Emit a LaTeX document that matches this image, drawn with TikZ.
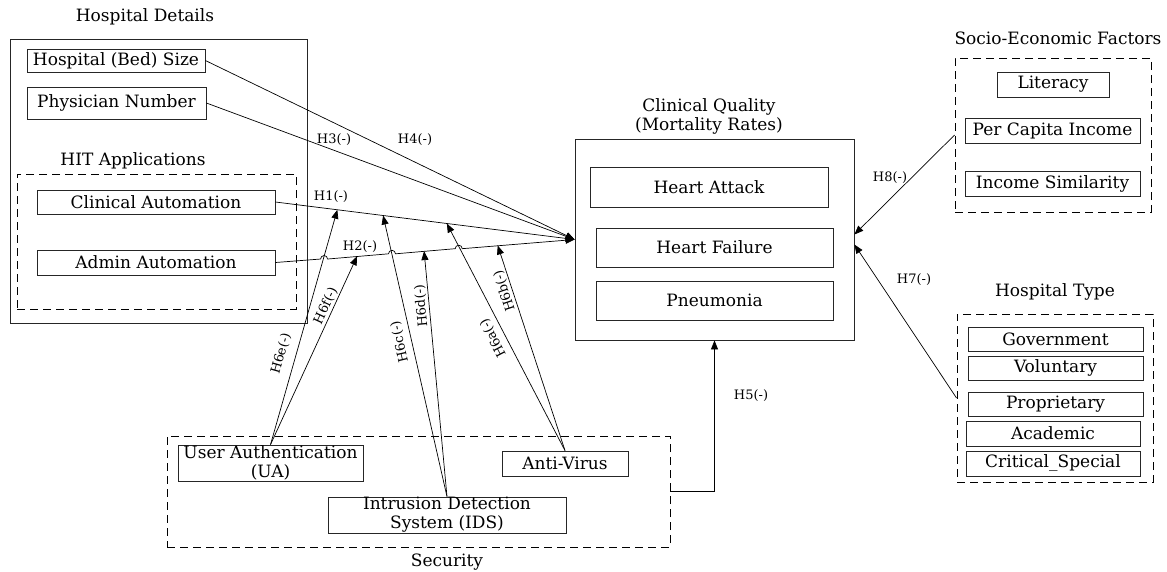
\documentclass[tikz,border=0pt]{standalone}
\usepackage{fontspec}
\setmainfont{DejaVu Serif}
\usetikzlibrary{arrows.meta,calc}
\newcommand{\boxfont}{\fontsize{17}{19}\selectfont}
\newcommand{\hfont}{\fontsize{13}{15}\selectfont}
\begin{document}
\begin{tikzpicture}[x=1pt,y=-1pt,
  box/.style={draw=black!85, line width=0.8pt, inner sep=0pt, align=center, font=\boxfont},
  dbox/.style={draw=black, line width=0.9pt, dash pattern=on 8pt off 5pt, inner sep=0pt},
  ttl/.style={font=\boxfont, inner sep=0pt, align=center},
  hl/.style={font=\hfont, inner sep=0pt},
  h6/.style={font=\hfont, sloped, allow upside down, above, inner sep=1.5pt},
  arr/.style={line width=0.7pt, -{Triangle[length=9pt,width=7pt]}},
]
\useasboundingbox (0,0) rectangle (1167,571);

% Hospital details
\node[ttl] (thd) at (145,17) {Hospital Details};
\node[box, minimum width=296.5pt, minimum height=283.5pt] (hd) at (158.75,181.25) {};
\node[box, minimum width=178pt, minimum height=23pt] (hbs) at (116,60.5) {Hospital (Bed) Size};
\node[box, minimum width=179pt, minimum height=32pt] (pn) at (116.5,103) {Physician Number};
\node[ttl] (thit) at (133,161) {HIT Applications};
\node[dbox, minimum width=279pt, minimum height=135pt] (hit) at (156.5,241.5) {};
\node[box, minimum width=238pt, minimum height=24pt] (ca) at (156,202) {Clinical Automation};
\node[box, minimum width=238pt, minimum height=25pt] (aa) at (156,262.5) {Admin Automation};

% Clinical quality
\node[ttl] (tcq) at (709,116.5) {Clinical Quality\\(Mortality Rates)};
\node[box, minimum width=279pt, minimum height=201pt] (cq) at (714.5,239.5) {};
\node[box, minimum width=238pt, minimum height=40pt] (ha) at (709,187) {Heart Attack};
\node[box, minimum width=237pt, minimum height=39pt] (hf) at (714.5,247.5) {Heart Failure};
\node[box, minimum width=237pt, minimum height=39pt] (pneu) at (714.5,300.5) {Pneumonia};

% Socio-economic
\node[ttl] (tsoc) at (1058,38) {Socio-Economic Factors};
\node[dbox, minimum width=196pt, minimum height=154pt] (soc) at (1053,135) {};
\node[box, minimum width=112pt, minimum height=25pt] (lit) at (1053,84.5) {Literacy};
\node[box, minimum width=175pt, minimum height=25pt] (pci) at (1052.5,130.5) {Per Capita Income};
\node[box, minimum width=175pt, minimum height=25pt] (isim) at (1052.5,183.5) {Income Similarity};

% Hospital type
\node[ttl] (tht) at (1055,292) {Hospital Type};
\node[dbox, minimum width=196pt, minimum height=168pt] (ht) at (1055,398) {};
\node[box, minimum width=175pt, minimum height=24pt] (gov) at (1055.5,339) {Government};
\node[box, minimum width=175pt, minimum height=24pt] (vol) at (1055.5,368) {Voluntary};
\node[box, minimum width=175pt, minimum height=24pt] (prop) at (1055.5,404) {Proprietary};
\node[box, minimum width=174pt, minimum height=25pt] (acad) at (1053,433.5) {Academic};
\node[box, minimum width=174pt, minimum height=25pt] (crit) at (1053,463.5) {Critical\_Special};

% Security
\node[dbox, minimum width=503pt, minimum height=111pt] (sec) at (418.5,491.5) {};
\node[ttl] (tsec) at (447,562) {Security};
\node[box, minimum width=185pt, minimum height=36pt] (ua) at (270.5,463) {User Authentication\\(UA)};
\node[box, minimum width=238pt, minimum height=36pt] (ids) at (447,515) {Intrusion Detection\\System (IDS)};
\node[box, minimum width=126pt, minimum height=25pt] (av) at (565,463.5) {Anti-Virus};

% Main connectors
\draw[arr] (hbs.east) -- (cq.west);
\draw[arr] (pn.east) -- (cq.west);
\draw[arr] (ca.east) -- (cq.west);
\draw[arr] (aa.east) -- ($(aa.east)!0.151!(cq.west)$) arc[start angle=180,end angle=0,radius=3.5pt]
  -- ($(aa.east)!0.378!(cq.west)$) arc[start angle=180,end angle=0,radius=3.5pt]
  -- ($(aa.east)!0.601!(cq.west)$) arc[start angle=180,end angle=0,radius=3.5pt]
  -- (cq.west);

\node[hl] (lh1) at (331,197) {H1(-)};
\node[hl] (lh2) at (360,247) {H2(-)};
\node[hl] (lh3) at (334,140) {H3(-)};
\node[hl] (lh4) at (415,140) {H4(-)};
\node[hl] (lh5) at (751,396) {H5(-)};
\node[hl] (lh7) at (914,280) {H7(-)};
\node[hl] (lh8) at (890,178) {H8(-)};

% Moderation targets on H1 and H2
\coordinate (t1a) at ($(ca.east)!0.207!(cq.west)$);
\coordinate (t1b) at ($(ca.east)!0.36!(cq.west)$);
\coordinate (t1c) at ($(ca.east)!0.573!(cq.west)$);
\coordinate (t2a) at ($(aa.east)!0.273!(cq.west)$);
\coordinate (t2b) at ($(aa.east)!0.497!(cq.west)$);
\coordinate (t2c) at ($(aa.east)!0.743!(cq.west)$);

\draw[arr] (ua.north) -- node[h6, pos=0.37, above=7pt] {H6e(-)} (t1a);
\draw[arr] (ua.north) -- node[h6, pos=0.72] {H6f(-)} (t2a);
\draw[arr] (ids.north) -- node[h6, pos=0.56, above=4pt] {H6c(-)} (t1b);
\draw[arr] (ids.north) -- node[h6, pos=0.78] {H6d(-)} (t2b);
\draw[arr] (av.north) -- node[h6, pos=0.52, above=4pt] {H6a(-)} (t1c);
\draw[arr] (av.north) -- node[h6, pos=0.79] {H6b(-)} (t2c);

% Other connectors
\draw[arr] (sec.east) -| (cq.south);
\draw[arr] (soc.west) -- ([yshift=5pt]cq.east);
\draw[arr] (ht.west) -- ([yshift=-5pt]cq.east);
\end{tikzpicture}
\end{document}
